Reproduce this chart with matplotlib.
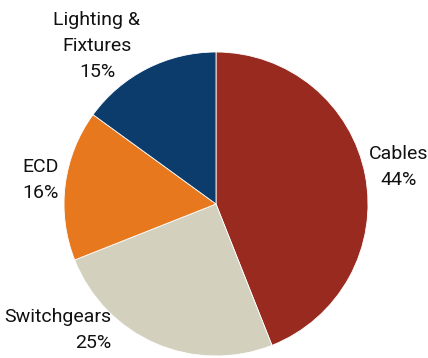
import matplotlib.pyplot as plt

names = ['Cables', 'Switchgears', 'ECD', 'Lighting &\nFixtures']
shares = [44, 25, 16, 15]
colors = ['#982A20', '#D3D0BD', '#E8781E', '#0B3C6C']

# label anchor points (pixels from the top-left) and alignment
label_pos = [(399, 167), (111, 330), (41, 180), (97, 46)]
label_align = ['center', 'right', 'center', 'center']

plt.rcParams['font.family'] = ['Roboto', 'DejaVu Sans']

W, H = 428, 358
fig = plt.figure(figsize=(W / 100, H / 100), dpi=100)
ax = fig.add_axes([0, 0, 1, 1])

ax.pie(shares, colors=colors, startangle=90, counterclock=False,
       radius=152, center=(216, H - 204), frame=True,
       wedgeprops=dict(edgecolor='white', linewidth=0.6))
ax.set_xlim(0, W)
ax.set_ylim(0, H)
ax.set_aspect('equal')
ax.axis('off')

for name, val, (x, y), ha in zip(names, shares, label_pos, label_align):
    ax.text(x, H - y, f'{name}\n{val}%', ha=ha, va='center', fontsize=14,
            linespacing=1.55, color='#111111', multialignment=ha)

fig.savefig('out.png', dpi=100)
